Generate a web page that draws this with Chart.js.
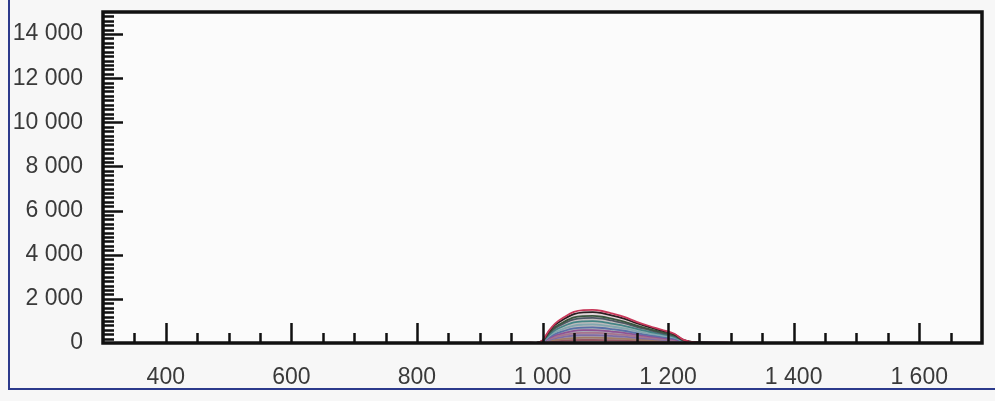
<!DOCTYPE html>
<html>
<head>
<meta charset="utf-8">
<script src="https://cdn.jsdelivr.net/npm/chart.js@4/dist/chart.umd.min.js"></script>
<style>
  html, body { margin: 0; padding: 0; background: #f7f7f7; }
  #wrap { position: absolute; left: 0; top: 0; width: 995px; height: 401px; }
</style>
</head>
<body>
<div id="wrap"><canvas id="chart" width="995" height="401"></canvas></div>
<script>
// wavenumber positions (x) shared by all spectra
const xs = [300, 900, 970, 990, 1000, 1010, 1020, 1035, 1050, 1065, 1080, 1095, 1110, 1130, 1150, 1170, 1190, 1210, 1225, 1245, 1300, 1700];

// spectra (top to bottom)
const sRed     = [0, 10, 12, 10, 120, 550, 880, 1180, 1410, 1490, 1500, 1450, 1340, 1180, 960, 770, 600, 420, 140, 30, 10, 0];
const sBlack   = [0, 10, 12, 10, 110, 510, 820, 1100, 1310, 1390, 1400, 1350, 1250, 1100, 900, 720, 560, 390, 130, 28, 10, 0];
const sGreen   = [0, 10, 10, 8, 100, 450, 720, 970, 1160, 1220, 1230, 1190, 1100, 970, 790, 630, 490, 340, 115, 25, 8, 0];
const sSlate   = [0, 10, 10, 8, 90, 420, 670, 900, 1070, 1130, 1140, 1100, 1020, 900, 730, 590, 450, 320, 105, 23, 8, 0];
const sTeal    = [0, 8, 9, 7, 80, 360, 580, 780, 930, 980, 990, 960, 880, 780, 640, 510, 400, 280, 95, 20, 7, 0];
const sCyan    = [0, 8, 8, 6, 67, 310, 490, 660, 790, 830, 840, 810, 750, 660, 540, 430, 340, 240, 80, 18, 6, 0];
const sBlue    = [0, 6, 7, 5, 56, 260, 415, 555, 660, 700, 705, 680, 630, 555, 450, 360, 280, 200, 70, 16, 5, 0];
const sMagenta = [0, 5, 6, 4, 47, 215, 345, 460, 550, 580, 585, 565, 520, 460, 375, 300, 235, 165, 60, 15, 5, 0];
const sPink    = [0, 5, 5, 3, 37, 170, 270, 365, 440, 460, 465, 450, 415, 365, 300, 240, 185, 130, 50, 14, 5, 0];
const sViolet  = [0, 4, 4, 3, 29, 130, 210, 285, 340, 355, 360, 350, 320, 285, 230, 185, 145, 100, 40, 12, 4, 0];
const sOrange  = [0, 3, 3, 2, 19, 88, 140, 190, 225, 240, 240, 232, 215, 190, 155, 125, 95, 68, 30, 10, 3, 0];
const sRed2    = [0, 2, 2, 1, 11, 50, 80, 105, 125, 135, 135, 130, 120, 105, 85, 70, 55, 38, 20, 7, 2, 0];

const xTicks = [400, 600, 800, 1000, 1200, 1400, 1600];
const yTicks = [0, 2000, 4000, 6000, 8000, 10000, 12000, 14000];

const series = [
  [sRed, '#c8385a'], [sBlack, '#1c1c1c'], [sGreen, '#2f6040'], [sSlate, '#4a6272'],
  [sTeal, '#3aa3a3'], [sCyan, '#9fdbe6'], [sBlue, '#5b7bd8'], [sMagenta, '#c244b2'],
  [sPink, '#f28aa8'], [sViolet, '#9a7ae0'], [sOrange, '#f0a040'], [sRed2, '#d23434']
];

function fmt(v) {
  return String(v).replace(/\B(?=(\d{3})+(?!\d))/g, ' ');
}

function hexA(hex, a) {
  const n = parseInt(hex.slice(1), 16);
  return `rgba(${(n >> 16) & 255},${(n >> 8) & 255},${n & 255},${a})`;
}

// page decoration + plot frame with inward ticks
const framePlugin = {
  id: 'frame',
  beforeDraw(chart) {
    const ctx = chart.ctx;
    const a = chart.chartArea;
    ctx.save();
    ctx.fillStyle = '#fbfbfb';
    ctx.fillRect(a.left, a.top, a.right - a.left, a.bottom - a.top);
    ctx.strokeStyle = '#2c3a8c';
    ctx.lineWidth = 2;
    ctx.beginPath();
    ctx.moveTo(9, 0);
    ctx.lineTo(9, 389);
    ctx.lineTo(995, 389);
    ctx.stroke();
    ctx.restore();
  },
  afterDatasetsDraw(chart) {
    const ctx = chart.ctx;
    const a = chart.chartArea;
    const xs_ = chart.scales.x;
    const ys_ = chart.scales.y;
    ctx.save();
    ctx.strokeStyle = '#111';
    ctx.lineWidth = 2.5;
    ctx.beginPath();
    // y ticks, minor every 200, major every 2000
    for (let v = 200; v < ys_.max; v += 200) {
      const py = Math.round(ys_.getPixelForValue(v)) + 0.5;
      const len = v % 2000 === 0 ? 20 : 11;
      ctx.moveTo(a.left, py);
      ctx.lineTo(a.left + len, py);
    }
    // x ticks, minor every 50, major every 200
    for (let v = 350; v < xs_.max; v += 50) {
      const px = Math.round(xs_.getPixelForValue(v)) + 0.5;
      const len = v % 200 === 0 ? 20 : 10;
      ctx.moveTo(px, a.bottom);
      ctx.lineTo(px, a.bottom - len);
    }
    ctx.stroke();
    ctx.lineWidth = 3.5;
    ctx.strokeRect(a.left, a.top, a.right - a.left, a.bottom - a.top);
    ctx.restore();
  }
};

const datasets = series.map(([vals, col]) => ({
  data: xs.map((x, i) => ({ x: x, y: vals[i] })),
  borderColor: col,
  backgroundColor: hexA(col, 0.09),
  borderWidth: 1.8,
  pointRadius: 0,
  tension: 0.3,
  cubicInterpolationMode: 'monotone',
  fill: 'origin'
}));

new Chart(document.getElementById('chart'), {
  type: 'line',
  data: { datasets: datasets },
  options: {
    responsive: false,
    animation: false,
    layout: { padding: { top: 12, right: 13, left: 0, bottom: 0 } },
    plugins: { legend: { display: false }, tooltip: { enabled: false } },
    scales: {
      x: {
        type: 'linear',
        min: 300,
        max: 1700,
        afterBuildTicks(s) { s.ticks = xTicks.map(v => ({ value: v })); },
        afterFit(s) { s.height = 58; s.paddingLeft = 0; s.paddingRight = 0; },
        grid: { display: false, drawTicks: false },
        border: { display: false },
        ticks: {
          padding: 21,
          color: '#3a3a3a',
          font: { family: 'Liberation Sans, Arial, sans-serif', size: 23 },
          callback: v => fmt(v),
          maxRotation: 0
        }
      },
      y: {
        type: 'linear',
        min: 0,
        max: 15000,
        afterBuildTicks(s) { s.ticks = yTicks.map(v => ({ value: v })); },
        afterFit(s) { s.width = 103; s.paddingTop = 0; s.paddingBottom = 0; },
        grid: { display: false, drawTicks: false },
        border: { display: false },
        ticks: {
          padding: 20,
          color: '#3a3a3a',
          font: { family: 'Liberation Sans, Arial, sans-serif', size: 23 },
          callback: v => fmt(v)
        }
      }
    }
  },
  plugins: [framePlugin]
});
</script>
</body>
</html>
